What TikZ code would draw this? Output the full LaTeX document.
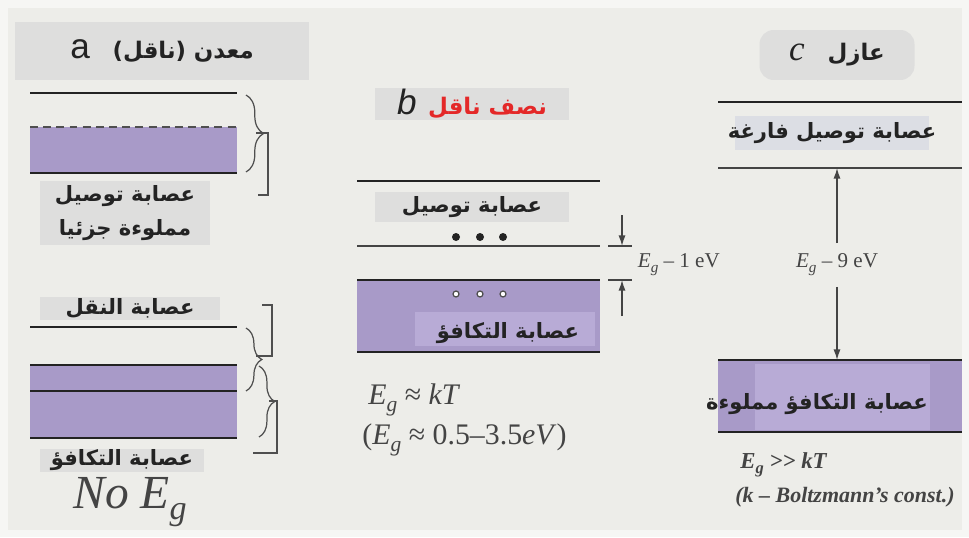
\documentclass[tikz,border=0pt]{standalone}
\usepackage{fontspec}
\setmainfont{Liberation Serif}
\setsansfont{Liberation Sans}
\newfontfamily\arabicfont[Script=Arabic]{DejaVu Sans}
\TeXXeTstate=1
\usetikzlibrary{arrows.meta,positioning,decorations.pathreplacing}
\definecolor{bgback}{RGB}{237,237,233}
\definecolor{bgedge}{RGB}{246,246,244}
\definecolor{labgray}{RGB}{222,222,221}
\definecolor{labblue}{RGB}{220,222,228}
\definecolor{bandpurple}{RGB}{168,154,200}
\definecolor{bandlight}{RGB}{184,171,214}
\definecolor{lineblack}{RGB}{35,35,35}
\definecolor{titlered}{RGB}{228,40,40}
\newcommand{\Eg}{\textit{E}\raisebox{-0.5ex}{\scalebox{0.72}{\textit{g}}}}
\tikzset{
  bandline/.style={draw=lineblack, line width=1.4pt},
  thinline/.style={draw=lineblack!85, line width=0.9pt},
  bracefig/.style={draw=lineblack!80, line width=0.7pt, decorate, decoration={brace, amplitude=#1}},
  bracketfig/.style={draw=lineblack!80, line width=0.7pt},
  artext/.style={font=\arabicfont\bfseries\fontsize{12}{15}\selectfont, text=lineblack, inner sep=0pt, align=center},
  labbox/.style={fill=#1, inner sep=0pt},
  formula/.style={font=\fontsize{17}{20}\selectfont, text=lineblack!85, inner sep=0pt, anchor=west},
  gaptext/.style={font=\fontsize{12}{14}\selectfont, text=lineblack!85, inner sep=2pt},
  gaparrow/.style={draw=lineblack!85, line width=0.8pt, -{Latex[length=6pt,width=4pt]}}
}
\begin{document}
\begin{tikzpicture}[x=0.02cm, y=-0.02cm]
  \useasboundingbox (0,0) rectangle (969,537);
  \fill[bgedge] (0,0) rectangle (969,537);
  \fill[bgback] (8,8) rectangle (962,530);

  \node[labbox=labgray, minimum width=5.9cm, minimum height=1.16cm] (titleA) at (162,51) {};
  \node[artext, font=\arabicfont\bfseries\fontsize{13}{15}\selectfont] at (titleA) {{\sffamily\mdseries\fontsize{20}{20}\selectfont a}\quad\beginR معدن (ناقل)\endR};
  \fill[bandpurple] (30,127) rectangle (237,173);
  \draw[bandline] (30,93) -- (237,93);
  \draw[draw=lineblack!80, line width=1.3pt, dash pattern=on 4.5pt off 3pt] (30,127) -- (237,127);
  \draw[bandline] (30,173) -- (237,173);
  \draw[bracefig=10pt] (246,95) -- (246,172);
  \draw[bracketfig] (256,133) -- (268,133) -- (268,195) -- (258,195);
  \node[labbox=labgray, minimum width=3.4cm, minimum height=1.3cm] (bandA1) at (125,213) {};
  \node[artext, font=\arabicfont\bfseries\fontsize{12}{19}\selectfont] at (bandA1) {\beginR عصابة توصيل\endR\\\beginR مملوءة جزئيا\endR};

  \node[labbox=labgray, minimum width=3.6cm, minimum height=0.46cm] (bandA2) at (130,308) {};
  \node[artext] at (bandA2) {\beginR عصابة النقل\endR};
  \fill[bandpurple] (30,365) rectangle (237,438);
  \draw[bandline] (30,327) -- (237,327);
  \draw[bandline] (30,365) -- (237,365);
  \draw[bandline] (30,391) -- (237,391);
  \draw[bandline] (30,438) -- (237,438);
  \draw[bracefig=9pt] (246,328) -- (246,391);
  \draw[bracketfig] (256,356) -- (272,356) -- (272,305) -- (262,305);
  \draw[bracefig=9pt] (259,366) -- (259,437);
  \draw[bracketfig] (269,401) -- (277,401) -- (277,453) -- (253,453);
  \node[labbox=labgray, minimum width=3.3cm, minimum height=0.46cm] (bandA3) at (122,460) {};
  \node[artext] at (bandA3) {\beginR عصابة التكافؤ\endR};
  \node[font=\itshape\fontsize{27}{29}\selectfont, text=lineblack!85] (noEg) at (130,502) {No \Eg};

  \node[labbox=labgray, minimum width=3.9cm, minimum height=0.64cm] (titleB) at (472,104) {};
  \node[artext, font=\arabicfont\bfseries\fontsize{13}{15}\selectfont] at (titleB) {{\sffamily\itshape\mdseries\fontsize{20}{20}\selectfont b}\enspace\textcolor{titlered}{\beginR نصف ناقل\endR}};
  \draw[bandline] (357,181) -- (600,181);
  \node[labbox=labgray, minimum width=3.9cm, minimum height=0.6cm] (bandB1) at (472,207) {};
  \node[artext] at (bandB1) {\beginR عصابة توصيل\endR};
  \foreach \x in {456,480,503} \fill[lineblack] (\x,237) circle (4);
  \draw[thinline] (357,246) -- (600,246);
  \fill[bandpurple] (357,280) rectangle (600,352);
  \fill[bandlight] (415,312) rectangle (595,346);
  \draw[bandline] (357,280) -- (600,280);
  \draw[bandline] (357,352) -- (600,352);
  \foreach \x in {456,480,503} \draw[fill=white, draw=lineblack!80, line width=0.7pt] (\x,294) circle (3);
  \node[artext] (bandB2) at (508,333) {\beginR عصابة التكافؤ\endR};
  \draw[thinline] (608,246) -- (632,246);
  \draw[thinline] (608,280) -- (632,280);
  \coordinate (gapTopB) at (622,246);
  \coordinate (gapBotB) at (622,280);
  \coordinate (arrTopB) at (622,215);
  \coordinate (arrBotB) at (622,316);
  \draw[gaparrow] (arrTopB) -- (gapTopB);
  \draw[gaparrow] (arrBotB) -- (gapBotB);
  \node[gaptext, anchor=west] (gapB) at (634,265) {\Eg\ – 1 eV};
  \node[formula] (eqB1) at (368,400) {\Eg\ ≈ \textit{kT}};
  \node[formula] (eqB2) at (362,440) {(\Eg\ ≈ 0.5–3.5\textit{eV})};

  \node[labbox=labgray, rounded corners=8pt, minimum width=3.1cm, minimum height=1cm] (titleC) at (837,55) {};
  \node[artext, font=\arabicfont\bfseries\fontsize{13}{15}\selectfont] at (titleC) {{\rmfamily\itshape\mdseries\fontsize{20}{20}\selectfont c}\quad\beginR عازل\endR};
  \draw[bandline] (718,102) -- (962,102);
  \node[labbox=labblue, minimum width=3.9cm, minimum height=0.7cm] (bandC1) at (832,133) {};
  \node[artext] at (bandC1) {\beginR عصابة توصيل فارغة\endR};
  \draw[thinline] (718,168) -- (962,168);
  \fill[bandpurple] (718,360) rectangle (962,432);
  \fill[bandlight] (755,364) rectangle (930,430);
  \draw[bandline] (718,360) -- (962,360);
  \draw[bandline] (718,432) -- (962,432);
  \coordinate (gapTopC) at (837,168);
  \coordinate (gapBotC) at (837,360);
  \node[gaptext, inner ysep=6pt] (gapC) at (837,265) {\Eg\ – 9 eV};
  \draw[gaparrow] (gapC.north) -- (gapTopC);
  \draw[gaparrow] (gapC.south) -- (gapBotC);
  \node[artext] (bandC2) at (817,404) {\beginR عصابة التكافؤ مملوءة\endR};
  \node[formula, font=\bfseries\itshape\fontsize{13}{15}\selectfont] (eqC1) at (740,465) {\Eg\ >{}> \textit{kT}};
  \node[formula, font=\bfseries\itshape\fontsize{12.5}{15}\selectfont] (eqC2) at (735,497) {(\textit{k} – \textit{Boltzmann's const.})};
\end{tikzpicture}
\end{document}
